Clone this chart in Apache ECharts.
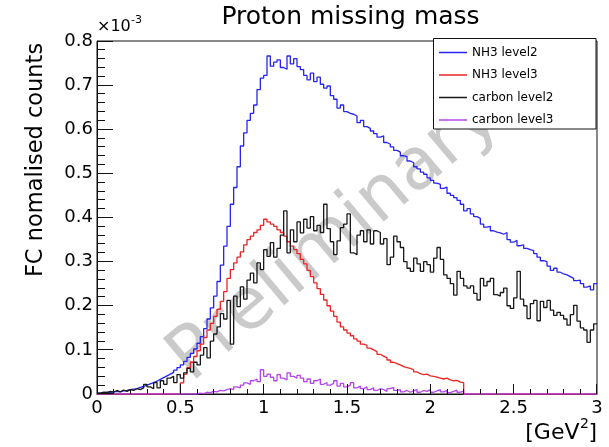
<!DOCTYPE html>
<html><head><meta charset="utf-8">
<script src="https://cdn.jsdelivr.net/npm/echarts@6/dist/echarts.min.js"></script>
<style>html,body{margin:0;padding:0;background:#fff}#c{width:609px;height:447px}</style>
</head><body><div id="c"></div>
<script>
const titleText = 'Proton missing mass';
const yTitleText = 'FC nomalised counts';
const xTitleMain = '[GeV';
const xTitleSup = '2';
const xTitleEnd = ']';
const yExpBase = '\u00d710';
const yExpSup = '-3';
const watermarkText = 'Preliminary';
const seriesNames = ['NH3 level2', 'NH3 level3', 'carbon level2', 'carbon level3'];
const seriesColors = ['#2626f2', '#ee2424', '#1a1a1a', '#b545ea'];
const binWidth = 0.02;
const xMin = 0, xMax = 3, xStep = 0.5, xMinorDiv = 5;
const yMin = 0, yMax = 0.8, yStep = 0.1, yMinorDiv = 5;

// values in units of 1e-3
const nh3Level2 = [
0.002,0.003,0.004,0.003,0.005,0.006,0.005,0.007,0.008,0.010,
0.011,0.012,0.015,0.017,0.020,0.023,0.026,0.029,0.033,0.037,
0.041,0.045,0.049,0.054,0.060,0.066,0.074,0.083,0.092,0.102,
0.115,0.130,0.148,0.170,0.195,0.222,0.255,0.292,0.335,0.380,
0.430,0.468,0.515,0.562,0.592,0.620,0.636,0.655,0.690,0.716,
0.722,0.766,0.743,0.752,0.757,0.740,0.736,0.766,0.748,0.760,
0.742,0.735,0.722,0.712,0.727,0.708,0.718,0.702,0.693,0.698,
0.676,0.668,0.648,0.655,0.640,0.636,0.634,0.630,0.615,0.620,
0.606,0.602,0.596,0.590,0.582,0.585,0.570,0.566,0.560,0.552,
0.548,0.540,0.538,0.528,0.524,0.515,0.510,0.503,0.498,0.490,
0.484,0.478,0.475,0.466,0.469,0.455,0.450,0.445,0.439,0.430,
0.415,0.420,0.408,0.402,0.398,0.385,0.378,0.380,0.370,0.367,
0.365,0.362,0.366,0.350,0.344,0.348,0.336,0.338,0.330,0.327,
0.325,0.318,0.310,0.302,0.300,0.290,0.280,0.285,0.276,0.272,
0.270,0.266,0.262,0.257,0.258,0.250,0.242,0.245,0.236,0.250
];
const nh3Level3 = [
0,0,0,0,0,0,0,0,0,0,
0,0,0,0,0,0,0,0,0,0,
0,0,0,0,0,0.025,0.045,0.060,0.072,0.085,
0.098,0.113,0.128,0.145,0.160,0.176,0.192,0.210,0.232,0.262,
0.282,0.297,0.310,0.322,0.338,0.350,0.358,0.366,0.372,0.382,
0.396,0.390,0.385,0.380,0.372,0.366,0.358,0.345,0.335,0.327,
0.318,0.305,0.295,0.280,0.266,0.252,0.239,0.226,0.213,0.200,
0.188,0.176,0.163,0.152,0.145,0.138,0.132,0.125,0.120,0.113,
0.110,0.104,0.100,0.096,0.090,0.086,0.082,0.077,0.072,0.069,
0.066,0.062,0.060,0.058,0.055,0.050,0.046,0.044,0.045,0.041,
0.040,0.038,0.036,0.034,0.036,0.032,0.030,0.031,0.027,0.026,
0,0,0,0,0,0,0,0,0,0,
0,0,0,0,0,0,0,0,0,0,
0,0,0,0,0,0,0,0,0,0,
0,0,0,0,0,0,0,0,0,0
];
const carbonLevel2 = [
0.002,0.004,0.003,0.006,0.004,0.008,0.005,0.009,0.006,0.010,
0.008,0.012,0.010,0.014,0.022,0.016,0.012,0.026,0.014,0.030,
0.022,0.036,0.040,0.026,0.044,0.036,0.048,0.058,0.050,0.072,
0.066,0.088,0.105,0.082,0.120,0.136,0.152,0.182,0.170,0.212,
0.113,0.222,0.198,0.243,0.215,0.258,0.274,0.252,0.297,0.282,
0.327,0.312,0.343,0.310,0.330,0.360,0.415,0.320,0.372,0.345,
0.390,0.365,0.396,0.376,0.402,0.370,0.382,0.366,0.430,0.375,
0.345,0.316,0.347,0.377,0.385,0.408,0.320,0.316,0.360,0.370,
0.345,0.372,0.340,0.370,0.366,0.340,0.352,0.293,0.310,0.358,
0.345,0.332,0.300,0.285,0.278,0.308,0.295,0.278,0.300,0.293,
0.276,0.308,0.332,0.305,0.270,0.262,0.250,0.224,0.278,0.262,
0.245,0.240,0.245,0.228,0.213,0.262,0.245,0.255,0.262,0.225,
0.222,0.230,0.240,0.200,0.194,0.218,0.278,0.215,0.200,0.171,
0.205,0.212,0.166,0.210,0.196,0.212,0.190,0.178,0.185,0.178,
0.170,0.156,0.180,0.201,0.165,0.150,0.145,0.117,0.145,0.159
];
const carbonLevel3 = [
0,0,0,0,0,0,0,0,0,0,
0,0,0,0,0,0,0,0,0,0,
0,0,0,0,0,0,0,0,0,0,
0.002,0.001,0.004,0.003,0.006,0.005,0.008,0.007,0.010,0.012,
0.010,0.016,0.014,0.020,0.025,0.022,0.030,0.034,0.028,0.055,
0.040,0.045,0.038,0.030,0.044,0.036,0.032,0.048,0.040,0.036,
0.042,0.036,0.028,0.034,0.024,0.030,0.034,0.022,0.026,0.020,
0.024,0.030,0.018,0.024,0.016,0.020,0.026,0.014,0.018,0.012,
0.016,0.010,0.014,0.008,0.012,0.010,0.006,0.012,0.015,0.008,
0.010,0.005,0.008,0.004,0.007,0.010,0.004,0.008,0.006,0.010,
0.004,0.007,0.010,0.005,0.008,0.003,0.006,0.009,0.004,0.006,
0,0,0,0,0,0,0,0,0,0,
0,0,0,0,0,0,0,0,0,0,
0,0,0,0,0,0,0,0,0,0,
0,0,0,0,0,0,0,0,0,0
];
const allSeries = [nh3Level2, nh3Level3, carbonLevel2, carbonLevel3];

const FONT = 'DejaVu Sans';
const GRID = {left: 97, right: 12, top: 41, bottom: 53};
function toSteps(vals) {
  const pts = vals.map((v, i) => [+(i * binWidth).toFixed(4), v]);
  pts.push([+(vals.length * binWidth).toFixed(4), vals[vals.length - 1]]);
  return pts;
}

const chart = echarts.init(document.getElementById('c'), null, {renderer: 'canvas'});
const W = chart.getWidth(), H = chart.getHeight();
const plotW = W - GRID.left - GRID.right, plotH = H - GRID.top - GRID.bottom;
// linear value-axis mapping of the grid (same as the chart's value axes)
const xPix = v => GRID.left + (v - xMin) / (xMax - xMin) * plotW;
const yPix = v => GRID.top + plotH - (v - yMin) / (yMax - yMin) * plotH;

// inside tick marks, drawn together with the other graphic elements
const tickEls = [];
const nx = Math.round((xMax - xMin) / xStep * xMinorDiv);
const yBase = GRID.top + plotH;
for (let i = 0; i <= nx; i++) {
  const len = (i % xMinorDiv === 0) ? 10 : 5;
  const x = Math.min(Math.floor(xPix(xMin + i * xStep / xMinorDiv)), GRID.left + plotW - 1);
  tickEls.push({type: 'rect', z: 50, silent: true, shape: {x: x, y: yBase - len, width: 1, height: len},
                style: {fill: '#111'}});
}
const ny = Math.round((yMax - yMin) / yStep * yMinorDiv);
for (let i = 0; i <= ny; i++) {
  const len = (i % yMinorDiv === 0) ? 16 : 8;
  const y = Math.min(Math.floor(yPix(yMin + i * yStep / yMinorDiv)), yBase - 1);
  tickEls.push({type: 'rect', z: 50, silent: true, shape: {x: GRID.left, y: y, width: len, height: 1},
                style: {fill: '#111'}});
}

const graphicEls = [
  {type: 'text', z: 1, x: 335, y: 238, rotation: 40 * Math.PI / 180,
   style: {text: watermarkText, fontFamily: FONT, fontSize: 72, fill: '#cacaca', align: 'center', verticalAlign: 'middle'}},
  {type: 'rect', z: 3, shape: {x: 433.5, y: 38.5, width: 162.5, height: 90.5},
   style: {fill: '#fff', stroke: '#111', lineWidth: 1}},
  {type: 'text', x: 350.5, y: 17, style: {text: titleText, fontFamily: FONT, fontSize: 25, fill: '#000', align: 'center', verticalAlign: 'middle'}},
  {type: 'text', x: 36, y: 160, rotation: Math.PI / 2,
   style: {text: yTitleText, fontFamily: FONT, fontSize: 22.5, fill: '#000', align: 'center', verticalAlign: 'middle'}},
  {type: 'text', x: 97, y: 27, style: {text: yExpBase, fontFamily: FONT, fontSize: 16, fill: '#000', align: 'left', verticalAlign: 'middle'}},
  {type: 'text', x: 131, y: 20, style: {text: yExpSup, fontFamily: FONT, fontSize: 11, fill: '#000', align: 'left', verticalAlign: 'middle'}},
  {type: 'text', x: 579.5, y: 433, style: {text: xTitleMain, fontFamily: FONT, fontSize: 22, fill: '#000', align: 'right', verticalAlign: 'middle'}},
  {type: 'text', x: 580, y: 424, style: {text: xTitleSup, fontFamily: FONT, fontSize: 14, fill: '#000', align: 'left', verticalAlign: 'middle'}},
  {type: 'text', x: 597, y: 433, style: {text: xTitleEnd, fontFamily: FONT, fontSize: 22, fill: '#000', align: 'right', verticalAlign: 'middle'}}
].concat(tickEls);

const option = {
  animation: false,
  backgroundColor: '#fff',
  grid: Object.assign({show: true, borderColor: '#111', borderWidth: 1, backgroundColor: 'transparent'}, GRID),
  xAxis: {
    type: 'value', min: xMin, max: xMax, interval: xStep,
    axisLine: {show: true, onZero: false, lineStyle: {color: '#111', width: 1}},
    axisTick: {show: false},
    splitLine: {show: false},
    axisLabel: {fontFamily: FONT, fontSize: 18, color: '#000', margin: 5}
  },
  yAxis: {
    type: 'value', min: yMin, max: yMax, interval: yStep,
    axisLine: {show: true, onZero: false, lineStyle: {color: '#111', width: 1}},
    axisTick: {show: false},
    splitLine: {show: false},
    axisLabel: {fontFamily: FONT, fontSize: 18, color: '#000', margin: 4}
  },
  legend: {
    orient: 'vertical', left: 439, top: 46.5, padding: 0,
    icon: 'rect', itemWidth: 28, itemHeight: 1.5, itemGap: 10.5,
    textStyle: {fontFamily: FONT, fontSize: 12, color: '#000'},
    data: seriesNames
  },
  graphic: graphicEls,
  series: allSeries.map((vals, k) => ({
    name: seriesNames[k], type: 'line', step: 'end', symbol: 'none', showSymbol: false, z: 2 + k,
    data: toSteps(vals),
    lineStyle: {color: seriesColors[k], width: 1.3},
    itemStyle: {color: seriesColors[k]}
  }))
};
try { chart.setOption(option); } catch (e) { console.error(e); }
</script>
</body></html>
